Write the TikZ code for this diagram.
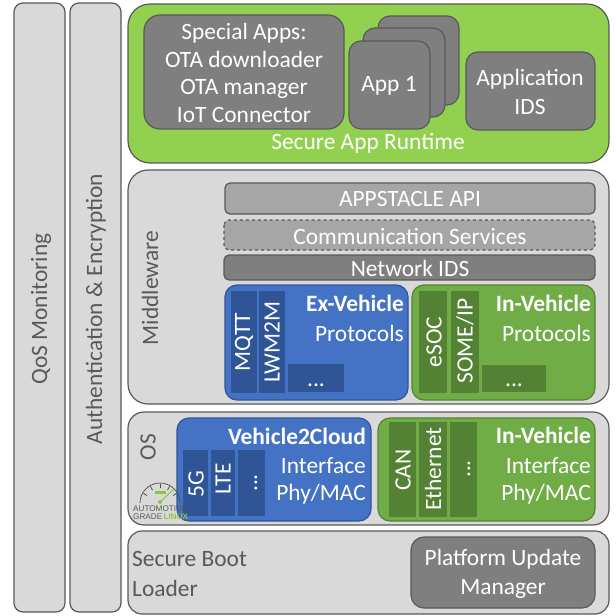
\documentclass[tikz,border=0pt]{standalone}
\usepackage{fontspec}
\setmainfont{Carlito}
\newfontfamily\logofont{Liberation Sans}
\definecolor{edgegray}{HTML}{595959}
\definecolor{panelgray}{HTML}{D9D9D9}
\definecolor{appgray}{HTML}{7F7F7F}
\definecolor{apigray}{HTML}{A6A6A6}
\definecolor{limegreen}{HTML}{92D050}
\definecolor{blueface}{HTML}{4472C4}
\definecolor{blueedge}{HTML}{2F5597}
\definecolor{greenface}{HTML}{70AD47}
\definecolor{greenedge}{HTML}{548235}
\definecolor{greendark}{HTML}{548235}
\definecolor{textgray}{HTML}{595959}
\definecolor{logogreen}{HTML}{8CC63F}
\tikzset{
  base/.style={rounded corners=#1,line width=1.2pt,draw=edgegray},
  base/.default=12bp,
  lbl/.style={inner sep=0pt,align=center,font=\fontsize{23.5}{28}\selectfont,text=white},
  wide/.style={font=\fontsize{23.5}{29.5}\selectfont},
  glbl/.style={lbl,text=textgray},
}
\begin{document}
\begin{tikzpicture}[x=1bp,y=-1bp]
\useasboundingbox (0,0) rectangle (616,616);
% side columns
\draw[base=9bp,fill=panelgray] (14,3) rectangle (65,612);
\draw[base=9bp,fill=panelgray] (70,3) rectangle (121,612);
\node[glbl,rotate=90] (qos) at (41,309) {QoS Monitoring};
\node[glbl,rotate=90] (auth) at (96,309) {Authentication \& Encryption};
% runtime
\draw[base=22bp,fill=limegreen] (128,4) rectangle (609,163);
\draw[base=16bp,fill=appgray] (144,15) rectangle (344,129);
\node[lbl,anchor=center] (special) at (244,73) {Special Apps:\\OTA downloader\\OTA manager\\IoT Connector};
\draw[base=12bp,fill=appgray] (378,16) rectangle (459,105);
\draw[base=12bp,fill=appgray] (363,28) rectangle (445,117);
\draw[base=12bp,fill=appgray] (349,41) rectangle (430,129);
\node[lbl] (app) at (389,86) {App 1};
\draw[base=12bp,fill=appgray] (466,52) rectangle (595,130);
\node[lbl,wide] (ids) at (530,92) {Application\\IDS};
\node[lbl] (sar) at (368,143) {Secure App Runtime};
% middleware
\draw[base=20bp,fill=panelgray] (128,170) rectangle (609,404);
\node[glbl,rotate=90] (mw) at (150,288) {Middleware};
\draw[base=5bp,fill=apigray] (225,183) rectangle (595,214);
\node[lbl] (api) at (410,199) {APPSTACLE API};
\draw[base=5bp,fill=apigray,dashed] (224,220) rectangle (595,250);
\node[lbl] (comm) at (410,236) {Communication Services};
\draw[base=5bp,fill=appgray] (224,255) rectangle (595,280);
\node[lbl] (nids) at (410,268) {Network IDS};
\draw[rounded corners=12bp,line width=1.2pt,draw=blueedge,fill=blueface] (225,285) rectangle (408,400);
\draw[rounded corners=12bp,line width=1.2pt,draw=greenedge,fill=greenface] (412,285) rectangle (595,400);
\fill[blueedge] (231,291) rectangle (257,393);
\fill[blueedge] (259,291) rectangle (285,393);
\fill[blueedge] (288,364) rectangle (344,392);
\node[lbl,rotate=90,anchor=center] (mqtt) at (244,342) {MQTT};
\node[lbl,rotate=90] (lwm) at (272,342) {LWM2M};
\node[lbl] (dots1) at (316,385) {...};
\node[lbl,anchor=east] (exv) at (404,303) {\textbf{Ex-Vehicle}};
\node[lbl,anchor=east] (exp) at (404,333) {Protocols};
\fill[greendark] (419,291) rectangle (447,393);
\fill[greendark] (451,291) rectangle (479,393);
\fill[greendark] (482,365) rectangle (546,392);
\node[lbl,rotate=90] (esoc) at (434,342) {eSOC};
\node[lbl,rotate=90] (some) at (465,341) {SOME/IP};
\node[lbl] (dots2) at (514,385) {...};
\node[lbl,anchor=east] (inv) at (591,303) {\textbf{In-Vehicle}};
\node[lbl,anchor=east] (inp) at (591,333) {Protocols};
% OS
\draw[base=16bp,fill=panelgray] (128,412) rectangle (609,525);
\node[glbl,rotate=90] (os) at (148,447) {OS};
\draw[rounded corners=12bp,line width=1.2pt,draw=blueedge,fill=blueface] (177,418) rectangle (371,521);
\draw[rounded corners=12bp,line width=1.2pt,draw=greenedge,fill=greenface] (378,418) rectangle (595,521);
\fill[blueedge] (183,450) rectangle (208,516);
\fill[blueedge] (211,450) rectangle (235,516);
\fill[blueedge] (238,450) rectangle (265,516);
\node[lbl,rotate=90] (fiveg) at (196,484) {5G};
\node[lbl,rotate=90] (lte) at (223,479) {LTE};
\node[lbl,rotate=90] (dots3) at (256,483) {...};
\node[lbl,anchor=east] (v2c) at (366,436) {\textbf{Vehicle2Cloud}};
\node[lbl,anchor=east] (if1) at (366,466) {Interface};
\node[lbl,anchor=east] (phy1) at (366,494) {Phy/MAC};
\fill[greendark] (389,422) rectangle (416,517);
\fill[greendark] (419,422) rectangle (447,517);
\fill[greendark] (450,422) rectangle (477,517);
\node[lbl,rotate=90] (can) at (403,470) {CAN};
\node[lbl,rotate=90] (eth) at (433,469) {Ethernet};
\node[lbl,rotate=90] (dots4) at (469,469) {...};
\node[lbl,anchor=east] (inv2) at (591,435) {\textbf{In-Vehicle}};
\node[lbl,anchor=east] (if2) at (591,466) {Interface};
\node[lbl,anchor=east] (phy2) at (591,494) {Phy/MAC};
% logo
\draw[line width=0.7pt,draw=black!70] (140,503) arc[start angle=180,end angle=0,radius=20bp];
\foreach \a in {30,60,90,120,150}{
  \draw[line width=0.8pt,draw=black!70] ({160+15*cos(\a)},{503-15*sin(\a)}) -- ({160+19*cos(\a)},{503-19*sin(\a)});
}
\fill[logogreen] (155,491) rectangle (166,493.5);
\draw[line width=1pt,draw=logogreen] (160,502) -- (174,489);
\fill[logogreen] (160,502) circle (2bp);
\node[inner sep=0pt,anchor=west,font=\logofont\fontsize{8.2}{8}\selectfont,text=textgray] (logoa) at (133,509) {AUTOMOTIVE};
\node[inner sep=0pt,anchor=west,font=\logofont\fontsize{8.2}{8}\selectfont,text=textgray] (logob) at (133,517) {GRADE\,\textcolor{logogreen}{\textbf{LINUX}}};
% boot
\draw[base=14bp,fill=panelgray] (128,531) rectangle (609,614);
\node[glbl,wide,align=left,anchor=west] (boot) at (132,574) {Secure Boot\\Loader};
\draw[base=13bp,fill=appgray] (411,537) rectangle (595,608);
\node[lbl,wide] (pum) at (503,574) {Platform Update\\Manager};
\end{tikzpicture}
\end{document}
